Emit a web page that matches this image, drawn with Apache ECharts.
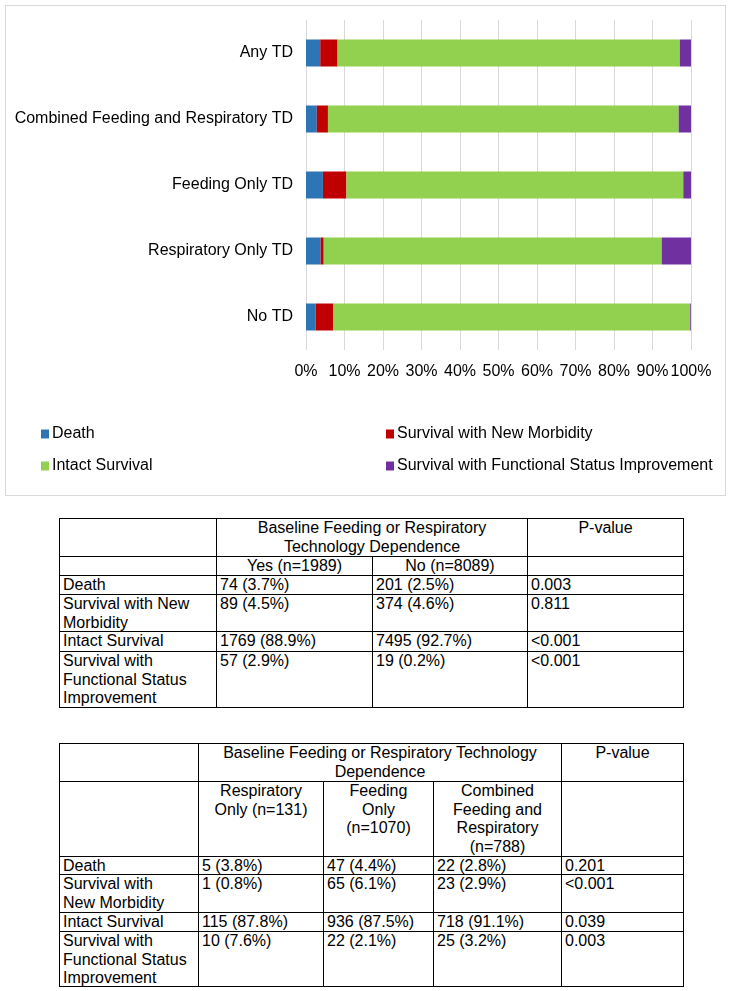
<!DOCTYPE html>
<html>
<head>
<meta charset="utf-8">
<script src="https://cdn.jsdelivr.net/npm/echarts@6/dist/echarts.min.js"></script>
<style>
  html, body { margin: 0; padding: 0; background: #fff; }
  body { width: 731px; height: 991px; position: relative; overflow: hidden;
         font-family: "Liberation Sans", Arial, sans-serif; color: #000; }
  #frame { position: absolute; left: 5px; top: 5px; width: 719px; height: 489px;
           border: 1px solid #d9d9d9; box-sizing: content-box; }
  #chart { position: absolute; left: 0; top: 0; width: 731px; height: 500px; }
  .cell { position: absolute; border: 1px solid #000; box-sizing: border-box;
          font-size: 16px; line-height: 18.5px; white-space: pre-line; overflow: hidden; }
</style>
</head>
<body>
<div id="frame"></div>
<div id="chart"></div>
<div id="tables"></div>
<script>
// ---------- chart data ----------
const categories = ['Any TD', 'Combined Feeding and Respiratory TD', 'Feeding Only TD', 'Respiratory Only TD', 'No TD'];
const seriesNames = ['Death', 'Survival with New Morbidity', 'Intact Survival', 'Survival with Functional Status Improvement'];
const death        = [3.7, 2.8, 4.4, 3.8, 2.5];
const newMorbidity = [4.5, 2.9, 6.1, 0.8, 4.6];
const intact       = [88.9, 91.1, 87.5, 87.8, 92.7];
const improvement  = [2.9, 3.2, 2.1, 7.6, 0.2];
const colors = ['#2e75b6', '#c00000', '#92d050', '#7030a0'];

// ---------- table 1 data ----------
const t1Title = 'Baseline Feeding or Respiratory\nTechnology Dependence';
const t1PHeader = 'P-value';
const t1Groups = ['Yes (n=1989)', 'No (n=8089)'];
const t1Rows = ['Death', 'Survival with New\nMorbidity', 'Intact Survival', 'Survival with\nFunctional Status\nImprovement'];
const t1Yes = ['74 (3.7%)', '89 (4.5%)', '1769 (88.9%)', '57 (2.9%)'];
const t1No  = ['201 (2.5%)', '374 (4.6%)', '7495 (92.7%)', '19 (0.2%)'];
const t1P   = ['0.003', '0.811', '<0.001', '<0.001'];

// ---------- table 2 data ----------
const t2Title = 'Baseline Feeding or Respiratory Technology\nDependence';
const t2PHeader = 'P-value';
const t2Groups = ['Respiratory\nOnly (n=131)', 'Feeding\nOnly\n(n=1070)', 'Combined\nFeeding and\nRespiratory\n(n=788)'];
const t2Rows = ['Death', 'Survival with\nNew Morbidity', 'Intact Survival', 'Survival with\nFunctional Status\nImprovement'];
const t2Resp = ['5 (3.8%)', '1 (0.8%)', '115 (87.8%)', '10 (7.6%)'];
const t2Feed = ['47 (4.4%)', '65 (6.1%)', '936 (87.5%)', '22 (2.1%)'];
const t2Comb = ['22 (2.8%)', '23 (2.9%)', '718 (91.1%)', '25 (3.2%)'];
const t2P    = ['0.201', '<0.001', '0.039', '0.003'];

// ---------- chart ----------
const FONT = '"Liberation Sans", Arial, sans-serif';
const chart = echarts.init(document.getElementById('chart'), null, { renderer: 'canvas' });
const values = [death, newMorbidity, intact, improvement];
const legendPos = [
  { left: 41, top: 425 }, { left: 386, top: 425 },
  { left: 41, top: 457 }, { left: 386, top: 457 }
];
chart.setOption({
  animation: false,
  textStyle: { fontFamily: FONT },
  grid: { left: 306, right: 40, top: 20, bottom: 150, containLabel: false },
  xAxis: {
    type: 'value', min: 0, max: 100, interval: 10,
    axisLine: { show: false }, axisTick: { show: false },
    splitLine: { show: true, lineStyle: { color: '#d9d9d9', width: 1 } },
    axisLabel: { formatter: '{value}%', color: '#000', fontSize: 16, fontFamily: FONT, margin: 14, hideOverlap: false }
  },
  yAxis: {
    type: 'category', data: categories, inverse: true,
    axisLine: { show: false }, axisTick: { show: false },
    axisLabel: { color: '#000', fontSize: 16, fontFamily: FONT, margin: 13 }
  },
  legend: seriesNames.map((n, i) => ({
    data: [n], left: legendPos[i].left, top: legendPos[i].top,
    icon: 'rect', itemWidth: 8, itemHeight: 9, itemGap: 0, padding: 0,
    selectedMode: false,
    textStyle: { color: '#000', fontSize: 16, fontFamily: FONT, lineHeight: 18, padding: [0, 0, 0, -2] }
  })),
  series: seriesNames.map((n, i) => ({
    name: n, type: 'bar', stack: 'total', barWidth: 27,
    itemStyle: { color: colors[i] },
    data: values[i]
  }))
});

// ---------- tables ----------
function buildTable(cols, rows, cells) {
  const host = document.getElementById('tables');
  cells.forEach(c => {
    const d = document.createElement('div');
    d.className = 'cell';
    const x0 = cols[c.c0], x1 = cols[c.c1], y0 = rows[c.r0], y1 = rows[c.r1];
    d.style.left = x0 + 'px';
    d.style.top = y0 + 'px';
    d.style.width = (x1 - x0 + 1) + 'px';
    d.style.height = (y1 - y0 + 1) + 'px';
    d.style.textAlign = c.align || 'left';
    d.style.padding = c.align === 'center' ? '0 2px' : '0 3px 0 3px';
    d.textContent = c.text || '';
    host.appendChild(d);
  });
}

// Table 1
(function () {
  const cols = [59, 216, 372, 527, 683];
  const rows = [518, 556, 575, 594, 631, 651, 707];
  const cells = [];
  cells.push({ r0: 0, r1: 1, c0: 0, c1: 1, text: '' });
  cells.push({ r0: 0, r1: 1, c0: 1, c1: 3, text: t1Title, align: 'center' });
  cells.push({ r0: 0, r1: 1, c0: 3, c1: 4, text: t1PHeader, align: 'center' });
  cells.push({ r0: 1, r1: 2, c0: 0, c1: 1, text: '' });
  t1Groups.forEach((g, i) => cells.push({ r0: 1, r1: 2, c0: 1 + i, c1: 2 + i, text: g, align: 'center' }));
  cells.push({ r0: 1, r1: 2, c0: 3, c1: 4, text: '' });
  t1Rows.forEach((lab, i) => {
    const r = 2 + i;
    cells.push({ r0: r, r1: r + 1, c0: 0, c1: 1, text: lab });
    cells.push({ r0: r, r1: r + 1, c0: 1, c1: 2, text: t1Yes[i] });
    cells.push({ r0: r, r1: r + 1, c0: 2, c1: 3, text: t1No[i] });
    cells.push({ r0: r, r1: r + 1, c0: 3, c1: 4, text: t1P[i] });
  });
  buildTable(cols, rows, cells);
})();

// Table 2
(function () {
  const cols = [59, 198, 323, 433, 561, 683];
  const rows = [743, 781, 856, 874, 912, 931, 986];
  const cells = [];
  cells.push({ r0: 0, r1: 1, c0: 0, c1: 1, text: '' });
  cells.push({ r0: 0, r1: 1, c0: 1, c1: 4, text: t2Title, align: 'center' });
  cells.push({ r0: 0, r1: 1, c0: 4, c1: 5, text: t2PHeader, align: 'center' });
  cells.push({ r0: 1, r1: 2, c0: 0, c1: 1, text: '' });
  t2Groups.forEach((g, i) => cells.push({ r0: 1, r1: 2, c0: 1 + i, c1: 2 + i, text: g, align: 'center' }));
  cells.push({ r0: 1, r1: 2, c0: 4, c1: 5, text: '' });
  t2Rows.forEach((lab, i) => {
    const r = 2 + i;
    cells.push({ r0: r, r1: r + 1, c0: 0, c1: 1, text: lab });
    cells.push({ r0: r, r1: r + 1, c0: 1, c1: 2, text: t2Resp[i] });
    cells.push({ r0: r, r1: r + 1, c0: 2, c1: 3, text: t2Feed[i] });
    cells.push({ r0: r, r1: r + 1, c0: 3, c1: 4, text: t2Comb[i] });
    cells.push({ r0: r, r1: r + 1, c0: 4, c1: 5, text: t2P[i] });
  });
  buildTable(cols, rows, cells);
})();
</script>
</body>
</html>
